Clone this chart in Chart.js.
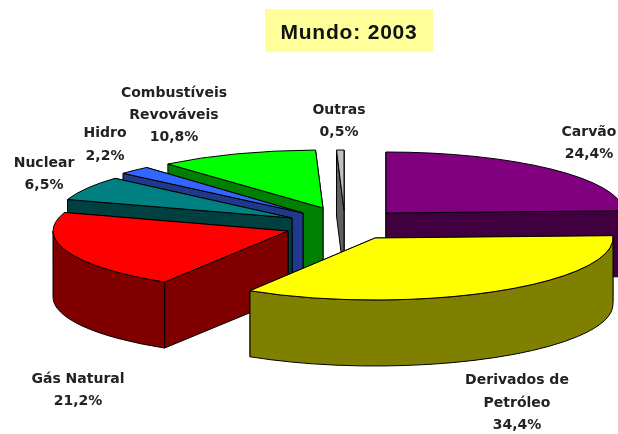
<!DOCTYPE html>
<html><head><meta charset="utf-8">
<style>html,body{margin:0;padding:0;background:#fff}#w{width:618px;height:434px}</style>
<script src="https://cdn.jsdelivr.net/npm/chart.js@4/dist/chart.umd.min.js"></script>
</head><body><div id="w"><canvas id="c" width="618" height="434"></canvas></div>
<script>
const categories = ['Carvão','Derivados de Petróleo','Gás Natural','Nuclear','Hidro','Combustíveis Revováveis','Outras'];
const shares = [24.4,34.4,21.2,6.5,2.2,10.8,0.5];
const shareText = ['24,4%','34,4%','21,2%','6,5%','2,2%','10,8%','0,5%'];
const titleText = 'Mundo: 2003';

const topColors  = ['#800080','#ffff00','#ff0000','#008080','#3366ff','#00ff00','#c0c0c0'];
const cutColors  = ['#400040','#808000','#800000','#004040','#1f3a8c','#008000','#606060'];
const wallColors = ['#400040','#808000','#800000','#004040','#1f3a8c','#008000','#606060'];
const explodeX = [77,66,-21,-17,-6,14,35];
const explodeY = [-4,21,14,1,-4,-9,-7];
const rimX = [238,238,235,236,240,238,238];
const rimY = [61,62,60,60,60,58,60];
const depth = 66;
const drawOrder = [0,6,5,4,3,2,1];
const labelLines = [['Carvão'],['Derivados de','Petróleo'],['Gás Natural'],['Nuclear'],['Hidro'],['Combustíveis','Revováveis'],['Outras']];
const labelX = [589,517,78,44,105,174,339];
const labelBase = [136,384,383,167,137,97,114];
const labelStep = [22,22.5,22,22,23,22,22];

function drawSlice(ctx, arc, i){
  const a0 = arc.startAngle, a1 = arc.endAngle;
  const ax = arc.x + explodeX[i], ay = arc.y + explodeY[i];
  const rx = rimX[i], ry = rimY[i];
  const px = a => ax + rx*Math.cos(a), py = a => ay + ry*Math.sin(a);
  ctx.lineWidth = 1; ctx.strokeStyle = '#000'; ctx.lineJoin = 'round';
  const cut = a => {
    ctx.beginPath(); ctx.moveTo(ax,ay); ctx.lineTo(px(a),py(a));
    ctx.lineTo(px(a),py(a)+depth); ctx.lineTo(ax,ay+depth); ctx.closePath();
    ctx.fillStyle = cutColors[i]; ctx.fill(); ctx.stroke();
  };
  const startFront = Math.cos(a0) < 0, endFront = Math.cos(a1) > 0;
  if(!startFront) cut(a0);
  if(!endFront) cut(a1);
  if(startFront) cut(a0);
  if(endFront) cut(a1);
  const w0 = Math.max(a0,0), w1 = Math.min(a1,Math.PI);
  if(w1 > w0){
    ctx.beginPath();
    ctx.ellipse(ax,ay,rx,ry,0,w0,w1);
    ctx.lineTo(px(w1),py(w1)+depth);
    ctx.ellipse(ax,ay+depth,rx,ry,0,w1,w0,true);
    ctx.closePath();
    ctx.fillStyle = wallColors[i]; ctx.fill(); ctx.stroke();
  }
  ctx.save();
  ctx.translate(ax,ay);
  ctx.scale(rx/arc.outerRadius, ry/arc.outerRadius);
  ctx.translate(-arc.x,-arc.y);
  arc.draw(ctx);
  ctx.restore();
  ctx.beginPath(); ctx.moveTo(ax,ay); ctx.ellipse(ax,ay,rx,ry,0,a0,a1); ctx.closePath(); ctx.stroke();
}

const pie3d = {
  id:'pie3d',
  beforeDatasetsDraw(chart){
    const ctx = chart.ctx, arcs = chart.getDatasetMeta(0).data;
    ctx.save();
    drawOrder.forEach(i => drawSlice(ctx, arcs[i], i));
    ctx.restore();
    return false;
  },
  afterDraw(chart){
    const ctx = chart.ctx;
    ctx.save();
    ctx.fillStyle = '#ffff99'; ctx.fillRect(265,9,168,43);
    ctx.fillStyle = '#111'; ctx.textAlign = 'center'; ctx.textBaseline = 'alphabetic';
    ctx.font = 'bold 21px "Liberation Sans"'; ctx.letterSpacing = '0.8px';
    ctx.fillText(titleText,349,39);
    ctx.letterSpacing = '0px';
    ctx.font = 'bold 14px "DejaVu Sans"'; ctx.fillStyle = '#222';
    labelLines.forEach((lines,i) => {
      [...lines, shareText[i]].forEach((t,k) => ctx.fillText(t,labelX[i],labelBase[i]+k*labelStep[i]));
    });
    ctx.restore();
  }
};

new Chart(document.getElementById('c'),{
  type:'pie',
  data:{labels:categories,datasets:[{data:shares,backgroundColor:topColors,borderWidth:0}]},
  options:{
    responsive:false,animation:false,radius:226,
    layout:{padding:0},
    plugins:{legend:{display:false},tooltip:{enabled:false},title:{display:false}}
  },
  plugins:[pie3d]
});
</script></body></html>
